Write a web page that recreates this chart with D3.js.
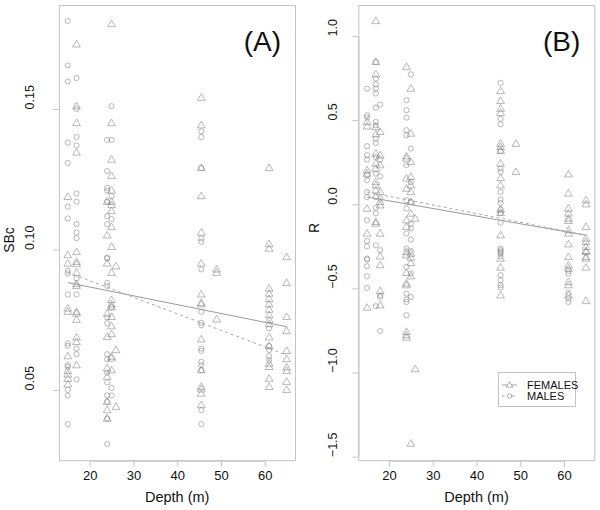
<!DOCTYPE html>
<html><head><meta charset="utf-8">
<script src="https://cdn.jsdelivr.net/npm/d3@7"></script>
<style>
body{margin:0;background:#fff;}
svg{font-family:"Liberation Sans",Arial,sans-serif;}
</style></head><body>
<svg id="c" width="600" height="510"></svg>
<script>
// ---------- DATA ----------
// Panel A (SBc) : [depth (m), value]
const sbcFemales = [
 [15,0.1187],[15,0.098],[15,0.095],[15,0.079],[15,0.0778],[15,0.062],[15,0.0568],[15,0.0555],[15,0.054],[15,0.052],
 [17,0.173],[17,0.151],[17,0.145],[17,0.1345],[17,0.0991],[17,0.0956],[17,0.0948],[17,0.0917],[17,0.0877],[17,0.087],[17,0.0778],[17,0.0772],[17,0.075],[17,0.0687],[17,0.0671],[17,0.0588],
 [24,0.117],[24,0.105],[24,0.095],[24,0.0772],[24,0.0689],[24,0.0577],[24,0.0547],[24,0.0458],[24,0.0428],[24,0.0398],
 [25,0.1802],[25,0.145],[25,0.132],[25,0.1262],[25,0.121],[25,0.117],[25,0.1158],[25,0.1137],[25,0.108],[25,0.1009],[25,0.0917],[25,0.082],[25,0.0804],[25,0.0794],[25,0.076],[25,0.0727],[25,0.0699],[25,0.0618],[25,0.0612],[25,0.057],
 [26,0.094],[26,0.0642],[26,0.044],
 [45.5,0.154],[45.5,0.1442],[45.5,0.129],[45.5,0.119],[45.5,0.106],[45.5,0.095],[45.5,0.084],[45.5,0.081],[45.5,0.0805],[45.5,0.068],[45.5,0.057],[45.5,0.0511],[45.5,0.0502],[45.5,0.0487],[45.5,0.0446],
 [49,0.0929],[49,0.0917],[49,0.0751],
 [61,0.129],[61,0.1019],[61,0.1003],[61,0.0861],[61,0.0843],[61,0.0823],[61,0.0805],[61,0.0786],[61,0.0766],[61,0.0749],[61,0.0734],[61,0.0687],[61,0.0656],[61,0.0594],[61,0.0582],[61,0.054],[61,0.0511],
 [65,0.0973],[65,0.0881],[65,0.076],[65,0.071],[65,0.0639],[65,0.061],[65,0.058],[65,0.0568],[65,0.0529],[65,0.05]
];
const sbcMales = [
 [15,0.1813],[15,0.1655],[15,0.1598],[15,0.138],[15,0.1308],[15,0.1152],[15,0.111],[15,0.0924],[15,0.0915],[15,0.084],[15,0.0666],[15,0.0657],[15,0.0588],[15,0.0582],[15,0.05],[15,0.048],[15,0.0378],
 [17,0.161],[17,0.15],[17,0.14],[17,0.137],[17,0.1199],[17,0.117],[17,0.109],[17,0.106],[17,0.104],[17,0.0897],[17,0.084],[17,0.0647],[17,0.0627],[17,0.0537],
 [24,0.139],[24,0.1279],[24,0.1219],[24,0.1209],[24,0.117],[24,0.1118],[24,0.109],[24,0.097],[24,0.0968],[24,0.0881],[24,0.087],[24,0.0758],[24,0.0737],[24,0.0627],[24,0.0609],[24,0.0561],[24,0.0527],[24,0.048],[24,0.0458],[24,0.0398],[24,0.0307],
 [25,0.151],[25,0.139],[25,0.119],[25,0.1108],[25,0.0794],[25,0.0507],[25,0.048],
 [45.5,0.142],[45.5,0.14],[45.5,0.129],[45.5,0.1039],[45.5,0.1027],[45.5,0.0929],[45.5,0.0778],[45.5,0.0739],[45.5,0.073],[45.5,0.0647],[45.5,0.0639],[45.5,0.06],[45.5,0.0588],[45.5,0.057],[45.5,0.0428],[45.5,0.0378],
 [61,0.0719],[61,0.0656],[61,0.0642],[61,0.062],[61,0.0606]
];
// Panel B (R)
const rFemales = [
 [15,0.489],[15,0.463],[15,0.202],[15,0.182],[15,-0.026],[15,-0.174],[15,-0.614],
 [17,1.089],[17,0.846],[17,0.772],[17,0.459],[17,0.416],[17,0.301],[17,0.242],[17,0.212],[17,0.132],[17,0.113],[17,0.083],[17,-0.105],[17,-0.115],
 [18,0.43],[18,0.291],[18,0.232],[18,0.073],[18,0.014],[18,-0.006],[18,-0.174],[18,-0.31],[18,-0.362],[18,-0.515],[18,-0.6],
 [24,0.816],[24,0.285],[24,0.272],[24,0.153],[24,0.093],[24,-0.095],[24,-0.134],[24,-0.283],[24,-0.303],[24,-0.408],[24,-0.471],[24,-0.481],[24,-0.758],[24,-0.778],[24,-0.792],
 [25,0.687],[25,0.42],[25,0.251],[25,0.163],[25,0.113],[25,0.073],[25,0.014],[25,-0.055],[25,-0.293],[25,-0.317],[25,-0.349],[25,-0.428],[25,-1.422],
 [26,-0.085],[26,-0.98],
 [45.5,0.673],[45.5,0.614],[45.5,0.568],[45.5,0.543],[45.5,0.36],[45.5,0.34],[45.5,0.317],[45.5,0.242],[45.5,0.156],[45.5,0.113],[45.5,-0.031],[45.5,-0.052],[45.5,-0.184],[45.5,-0.323],[45.5,-0.376],[45.5,-0.541],
 [49,0.36],[49,0.192],
 [61,0.178],[61,0.064],[61,-0.026],[61,-0.055],[61,-0.085],[61,-0.099],[61,-0.154],[61,-0.174],[61,-0.238],[61,-0.313],[61,-0.362],[61,-0.382],[61,-0.462],[61,-0.481],[61,-0.541],
 [65,0.024],[65,0.0],[65,-0.134],[65,-0.204],[65,-0.224],[65,-0.254],[65,-0.277],[65,-0.283],[65,-0.313],[65,-0.323],[65,-0.376],[65,-0.575]
];
const rMales = [
 [15,0.687],[15,0.529],[15,0.515],[15,0.345],[15,0.291],[15,0.266],[15,0.172],[15,0.143],[15,0.073],[15,0.043],[15,-0.095],[15,-0.218],[15,-0.25],[15,-0.323],[15,-0.329],[15,-0.368],[15,-0.428],[15,-0.497],
 [17,0.846],[17,0.747],[17,0.713],[17,0.687],[17,0.658],[17,0.574],[17,0.489],[17,0.469],[17,0.39],[17,0.364],[17,0.281],[17,0.182],[17,0.043],[17,-0.02],[17,-0.055],[17,-0.244],[17,-0.606],
 [18,0.592],[18,0.266],[18,0.166],[18,0.034],[18,-0.273],[18,-0.541],[18,-0.551],[18,-0.754],
 [24,0.618],[24,0.559],[24,0.515],[24,0.44],[24,0.41],[24,0.232],[24,0.024],[24,-0.026],[24,-0.174],[24,-0.263],[24,-0.372],[24,-0.531],[24,-0.566],[24,-0.581],[24,-0.66],
 [25,0.772],[25,0.331],[25,0.132],[25,0.014],[25,-0.115],[25,-0.144],[25,-0.21],[25,-0.277],[25,-0.412],[25,-0.551],
 [45.5,0.721],[45.5,0.508],[45.5,0.475],[45.5,0.317],[45.5,0.212],[45.5,0.192],[45.5,0.073],[45.5,0.028],[45.5,0.008],[45.5,-0.031],[45.5,-0.052],[45.5,-0.11],[45.5,-0.263],[45.5,-0.273],[45.5,-0.283],[45.5,-0.293],[45.5,-0.309],[45.5,-0.422],[45.5,-0.452],[45.5,-0.481],[45.5,-0.495],
 [61,-0.396],[61,-0.412],[61,-0.527],[61,-0.561],[61,-0.581]
];
// fitted regression lines: [depthStart, valueStart, depthEnd, valueEnd]
const sbcFitFemales = [15, 0.0882, 65, 0.0725];
const sbcFitMales   = [15, 0.0918, 65, 0.0624];
const rFitFemales   = [15, 0.043, 65, -0.184];
const rFitMales     = [15, 0.073, 65, -0.184];

const xTicks = [20, 30, 40, 50, 60];
const sbcTicks = [0.05, 0.10, 0.15];
const rTicks = [-1.5, -1.0, -0.5, 0.0, 0.5, 1.0];
const legendLabels = ["FEMALES", "MALES"];

// ---------- DRAW ----------
const svg = d3.select("#c");
const boxCol = "#c4c4c4", ptCol = "#707070";

function triPath(s){ // s = half width
  const h = s*1.7;
  return `M0,${-h*0.6}L${s},${h*0.4}L${-s},${h*0.4}Z`;
}

function panel(cfg){
  const g = svg.append("g");
  const x = d3.scaleLinear().domain([13, 67]).range([cfg.left, cfg.left + 236.4]);
  const y = d3.scaleLinear().domain(cfg.yDomain).range([460.7, 5]);
  g.append("rect").attr("x", cfg.left+0.5).attr("y", 5.5).attr("width", 236).attr("height", 455.2)
    .attr("fill","none").attr("stroke", boxCol).attr("stroke-width",1);
  const xa = g.append("g").attr("transform","translate(0,460.7)")
    .call(d3.axisBottom(x).tickValues(xTicks).tickSize(6).tickPadding(4).tickFormat(d3.format("d")));
  xa.select(".domain").attr("d", `M${x(20)},0.5H${x(60)}`).attr("stroke", boxCol);
  xa.selectAll(".tick line").attr("stroke", boxCol);
  xa.selectAll(".tick text").attr("font-size","13px").attr("fill","#111").attr("font-family","Liberation Sans, Arial, sans-serif");
  const ya = g.append("g").attr("transform",`translate(${cfg.left},0)`)
    .call(d3.axisLeft(y).tickValues(cfg.ticks).tickSize(6).tickFormat(cfg.fmt));
  ya.select(".domain").attr("d", `M0.5,${y(cfg.ticks[0])}V${y(cfg.ticks[cfg.ticks.length-1])}`).attr("stroke", boxCol);
  ya.selectAll(".tick line").attr("stroke", boxCol);
  ya.selectAll(".tick text")
    .attr("font-size","12.5px").attr("fill","#111").attr("font-family","Liberation Sans, Arial, sans-serif")
    .attr("text-anchor","start").attr("x",0).attr("dy",0)
    .attr("transform", `translate(${cfg.labX - cfg.left},0) rotate(-90)`);
  g.append("text").attr("x", x(40)).attr("y", 502).attr("text-anchor","middle")
    .attr("font-size","14.5px").attr("fill","#111").text("Depth (m)");
  g.append("text").attr("transform",`translate(${cfg.titleX},${cfg.titleY}) rotate(-90)`)
    .attr("text-anchor","middle").attr("font-size","14px").attr("fill","#111").text(cfg.title);
  g.append("text").attr("x", cfg.left + 222).attr("y", 51).attr("text-anchor","end")
    .attr("font-size","28px").attr("fill","#111").text(cfg.letter);
  g.selectAll("circle.m").data(cfg.males).join("circle").attr("class","m")
    .attr("cx", d=>x(d[0])).attr("cy", d=>y(d[1])).attr("r", 2.6)
    .attr("fill","none").attr("stroke", ptCol).attr("stroke-opacity",0.55).attr("stroke-width",0.9);
  g.selectAll("path.f").data(cfg.females).join("path").attr("class","f")
    .attr("transform", d=>`translate(${x(d[0])},${y(d[1])})`).attr("d", triPath(3.9))
    .attr("fill","none").attr("stroke", ptCol).attr("stroke-opacity",0.55).attr("stroke-width",0.9);
  const fitF = cfg.fitF, fitM = cfg.fitM;
  g.append("line").attr("x1",x(fitF[0])).attr("y1",y(fitF[1])).attr("x2",x(fitF[2])).attr("y2",y(fitF[3]))
    .attr("stroke","#9a9a9a").attr("stroke-width",1);
  g.append("line").attr("x1",x(fitM[0])).attr("y1",y(fitM[1])).attr("x2",x(fitM[2])).attr("y2",y(fitM[3]))
    .attr("stroke","#a8a8a8").attr("stroke-width",1).attr("stroke-dasharray","3,3");
  return {g, x, y};
}

panel({left:59, yDomain:[0.0248, 0.187], ticks:sbcTicks, fmt:d3.format(".2f"),
  labX:33.5, title:"SBc", titleX:14, titleY:240, letter:"(A)",
  females:sbcFemales, males:sbcMales, fitF:sbcFitFemales, fitM:sbcFitMales});
panel({left:358.3, yDomain:[-1.524, 1.184], ticks:rTicks, fmt:d3.format(".1f"),
  labX:337, title:"R", titleX:319, titleY:228, letter:"(B)",
  females:rFemales, males:rMales, fitF:rFitFemales, fitM:rFitMales});

const lg = svg.append("g");
lg.append("rect").attr("x",498.5).attr("y",372.5).attr("width",77).attr("height",34)
  .attr("fill","#fff").attr("stroke",boxCol);
legendLabels.forEach((lab,i)=>{
  const yy = 385 + i*11;
  lg.append("line").attr("x1",502).attr("x2",517).attr("y1",yy).attr("y2",yy)
    .attr("stroke","#a0a0a0").attr("stroke-dasharray", i===0 ? null : "2.5,2.5");
  if(i===0) lg.append("path").attr("transform",`translate(509.5,${yy})`).attr("d",triPath(3.3))
    .attr("fill","#fff").attr("stroke",ptCol).attr("stroke-opacity",0.7).attr("stroke-width",0.8);
  else lg.append("circle").attr("cx",509.5).attr("cy",yy).attr("r",2.2)
    .attr("fill","#fff").attr("stroke",ptCol).attr("stroke-opacity",0.7).attr("stroke-width",0.8);
  lg.append("text").attr("x",527).attr("y",yy+4).attr("font-size","11px").attr("fill","#111").text(lab);
});
</script>
</body></html>
